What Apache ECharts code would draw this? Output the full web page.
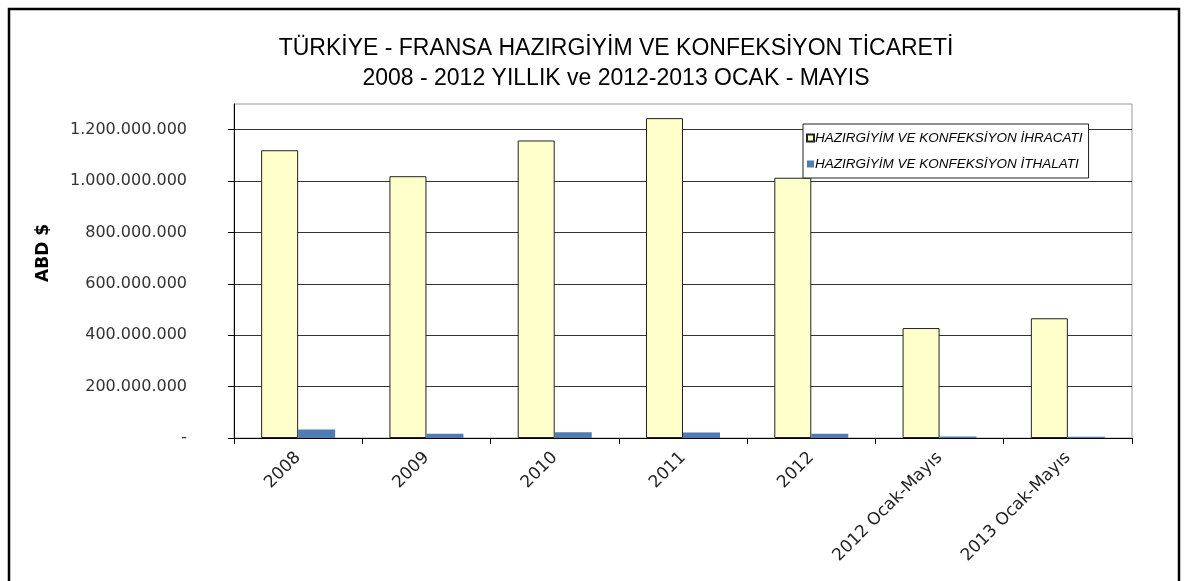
<!DOCTYPE html>
<html>
<head>
<meta charset="utf-8">
<script src="https://cdn.jsdelivr.net/npm/echarts@6/dist/echarts.min.js"></script>
<style>html,body{margin:0;padding:0;background:#fff}#c{width:1188px;height:581px}</style>
</head>
<body>
<div id="c"></div>
<script>
var categories = ['2008', '2009', '2010', '2011', '2012', '2012 Ocak-Mayıs', '2013 Ocak-Mayıs'];
var exportsValues = [1120000000, 1019000000, 1158000000, 1245000000, 1013000000, 428000000, 466000000];
var importsValues = [33000000, 17000000, 22000000, 21000000, 17000000, 6000000, 5000000];
var yTicks = [0, 200000000, 400000000, 600000000, 800000000, 1000000000, 1200000000];
var seriesNames = ['HAZIRGİYİM VE KONFEKSİYON İHRACATI', 'HAZIRGİYİM VE KONFEKSİYON İTHALATI'];
var titleText = 'TÜRKİYE - FRANSA HAZIRGİYİM VE KONFEKSİYON TİCARETİ\n2008 - 2012 YILLIK ve 2012-2013 OCAK - MAYIS';

function fmt(v) {
  if (v === 0) return '-';
  return String(Math.round(v)).replace(/\B(?=(\d{3})+(?!\d))/g, '.');
}

var chart = echarts.init(document.getElementById('c'));
chart.setOption({
  animation: false,
  textStyle: { fontFamily: 'Liberation Sans, Arial, sans-serif' },
  title: {
    text: titleText,
    left: 611,
    top: 29,
    textAlign: 'center',
    textStyle: { fontSize: 23, fontWeight: 'normal', color: '#000', lineHeight: 30, fontFamily: 'Liberation Sans, Arial, sans-serif' }
  },
  graphic: [{
    type: 'rect',
    shape: { x: 9, y: 9, width: 1170, height: 590 },
    style: { fill: 'none', stroke: '#000', lineWidth: 2.5 },
    z: 100
  }],
  legend: {
    orient: 'vertical',
    left: 803,
    top: 124,
    data: seriesNames,
    icon: 'rect',
    itemWidth: 7,
    itemHeight: 7,
    itemGap: 12,
    padding: [7, 6, 7, 3],
    backgroundColor: '#fff',
    borderColor: '#222',
    borderWidth: 1,
    z: 10,
    textStyle: { fontSize: 13.5, fontStyle: 'italic', color: '#000', padding: [0, 0, 0, -4], fontFamily: 'Liberation Sans, Arial, sans-serif' }
  },
  grid: {
    left: 234, right: 56, top: 104, bottom: 143,
    show: true, borderColor: '#999', borderWidth: 1, backgroundColor: 'transparent'
  },
  xAxis: {
    type: 'category',
    data: categories,
    axisLine: { lineStyle: { color: '#000', width: 1 } },
    axisTick: { show: true, length: 6, lineStyle: { color: '#000' } },
    axisLabel: { rotate: 45, fontSize: 17, color: '#222', margin: 17, interval: 0, fontFamily: 'DejaVu Sans, sans-serif' }
  },
  yAxis: {
    type: 'value',
    min: 0,
    max: 1300000000,
    interval: 200000000,
    name: 'ABD $',
    nameLocation: 'middle',
    nameRotate: 90,
    nameGap: 182,
    nameTextStyle: { fontSize: 17, fontWeight: 'bold', color: '#000', fontFamily: 'DejaVu Sans, sans-serif', padding: [0, 0, 0, 36] },
    axisLine: { show: true, lineStyle: { color: '#000', width: 1 } },
    axisTick: { show: true, length: 6, lineStyle: { color: '#000' }, customValues: yTicks },
    axisLabel: { fontSize: 16, color: '#333', margin: 47, formatter: fmt, customValues: yTicks, fontFamily: 'DejaVu Sans, sans-serif' },
    splitLine: { show: true, lineStyle: { color: '#333', width: 1 } }
  },
  series: [{
    name: seriesNames[0],
    type: 'bar',
    data: exportsValues,
    barWidth: 37,
    barGap: '0%',
    itemStyle: { color: '#FFFFCC', borderColor: '#222', borderWidth: 1 }
  }, {
    name: seriesNames[1],
    type: 'bar',
    data: importsValues,
    barWidth: 37,
    barGap: '0%',
    itemStyle: { color: '#4F7DB3' }
  }]
});
</script>
</body>
</html>
